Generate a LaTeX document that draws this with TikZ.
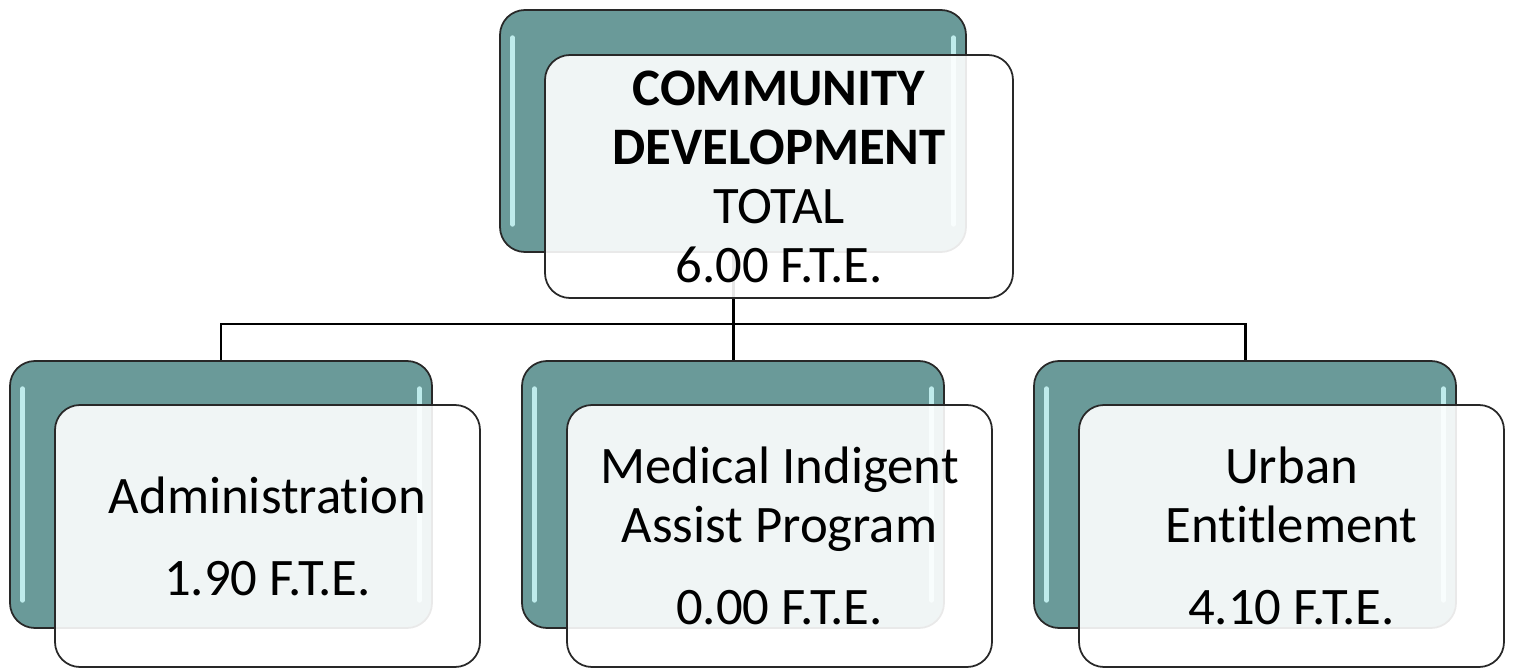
\documentclass[tikz,border=0pt]{standalone}
\usepackage{fontspec}
\setmainfont[Ligatures=NoCommon]{Carlito}
\definecolor{tealback}{RGB}{106,154,153}
\definecolor{tealshine}{RGB}{190,235,235}
\definecolor{boxedge}{RGB}{40,40,40}
\tikzset{
  backbox/.style={draw=boxedge, line width=1pt, fill=tealback, rounded corners=0.5cm,
    minimum width=8.44cm, minimum height=5.34cm,
    path picture={
      \draw[tealshine, line width=2.5pt, line cap=round]
        ([xshift=0.25cm,yshift=-0.55cm]path picture bounding box.north west) --
        ([xshift=0.25cm,yshift=0.55cm]path picture bounding box.south west);
      \draw[tealshine, line width=2.5pt, line cap=round]
        ([xshift=-0.25cm,yshift=-0.55cm]path picture bounding box.north east) --
        ([xshift=-0.25cm,yshift=0.55cm]path picture bounding box.south east);
    }},
  frontbox/.style={draw=boxedge, line width=1pt, fill=white, fill opacity=0.9, text opacity=1,
    rounded corners=0.5cm, align=center, minimum width=8.5cm, minimum height=5.24cm,
    font=\fontsize{30}{33.6}\selectfont},
  link/.style={line width=1.7pt}
}
\begin{document}
\begin{tikzpicture}
\useasboundingbox (0,0) rectangle (30.3,-13.42);
% back boxes
\node[backbox, minimum width=9.32cm, minimum height=4.84cm] (top) at (14.66,-2.62) {};
\node[backbox] (adm) at (4.42,-9.89) {};
\node[backbox] (med) at (14.66,-9.89) {};
\node[backbox] (urb) at (24.90,-9.89) {};
% connectors
\draw[link] (top.south) -- (14.66,-6.48) -| (adm.north);
\draw[link] (top.south) -- (med.north);
\draw[link] (14.66,-6.48) -| (urb.north);
% front boxes
\node[frontbox, minimum width=9.36cm, minimum height=4.86cm] (topf) at (15.58,-3.53)
  {\textbf{COMMUNITY}\\\textbf{DEVELOPMENT}\\TOTAL\\6.00 F.T.E.};
\node[frontbox] (admf) at (5.35,-10.72) {Administration\\[13pt]1.90 F.T.E.};
\node[frontbox] (medf) at (15.59,-10.72) {Medical Indigent\\Assist Program\\[13pt]0.00 F.T.E.};
\node[frontbox] (urbf) at (25.83,-10.72) {Urban\\Entitlement\\[13pt]4.10 F.T.E.};
\end{tikzpicture}
\end{document}
